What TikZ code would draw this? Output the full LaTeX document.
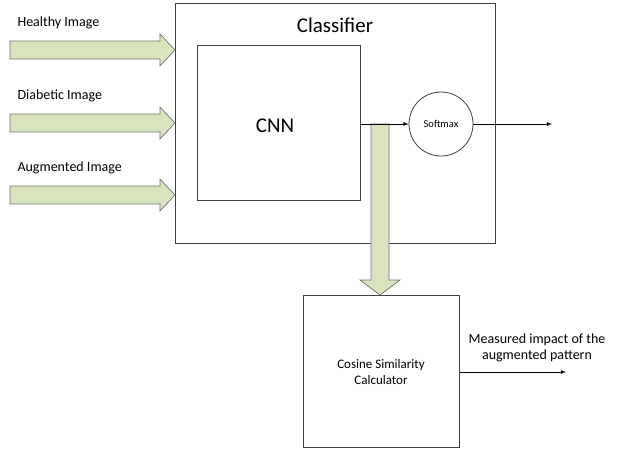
\documentclass[tikz,border=0pt]{standalone}
\usepackage{fontspec}
\setmainfont{Carlito}
\definecolor{blkfill}{HTML}{D8E4BE}
\begin{document}
\begin{tikzpicture}[x=1pt,y=-1pt,
  box/.style={draw=black!75,line width=0.8pt,fill=white},
  blk/.style={draw=black!55,fill=blkfill,line width=0.7pt},
  lab/.style={font=\fontsize{14}{16}\selectfont,anchor=west},
  arr/.style={-latex,line width=0.8pt}]
\useasboundingbox (0,0) rectangle (640,451);
\node[box,minimum width=320pt,minimum height=240pt,anchor=north west] (cls) at (175,3) {};
\node[font=\fontsize{21}{24}\selectfont] (clst) at (335,25) {Classifier};
\node[box,minimum width=163pt,minimum height=155pt,anchor=north west] (cnn) at (197,45) {};
\node[font=\fontsize{21}{24}\selectfont] (cnnt) at (275,126) {CNN};
\node[box,circle,minimum size=64pt,inner sep=0pt,font=\fontsize{10.5}{12}\selectfont] (sm) at (441,124) {Softmax};
\node[box,minimum width=156pt,minimum height=152pt,anchor=north west] (cos) at (303,295) {};
\node[font=\fontsize{13}{16}\selectfont,align=center] (cost) at (381,372) {Cosine Similarity\\Calculator};
\foreach \y/\t/\n in {50/Healthy Image/a,123/Diabetic Image/b,195/Augmented Image/c}{
  \draw[blk] (10,\y-9) -- (160,\y-9) -- (160,\y-16) -- (175,\y) -- (160,\y+16) -- (160,\y+9) -- (10,\y+9) -- cycle;
  \node[lab] (\n) at (14,\y-27) {\t};
}
\draw[blk] (371,124) -- (389,124) -- (389,280) -- (400,280) -- (380,295) -- (360,280) -- (371,280) -- cycle;
\coordinate (o1) at (552,124);
\coordinate (o2) at (566,372);
\draw[arr] (360,124) -- (sm.west);
\draw[arr] (sm.east) -- (o1);
\draw[arr] (cos.east |- 0,372) -- (o2);
\node[font=\fontsize{14}{16}\selectfont,align=center] (mt) at (537,348) {Measured impact of the\\augmented pattern};
\end{tikzpicture}
\end{document}
